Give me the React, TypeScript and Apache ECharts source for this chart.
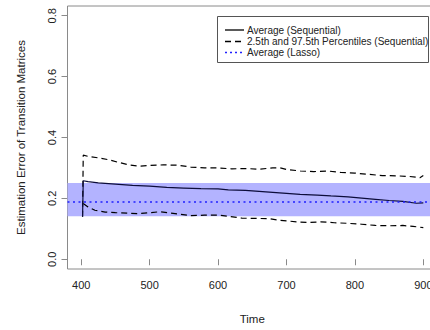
import React, { useEffect, useRef } from "react";
import * as echarts from "echarts";

const xTicks = [400, 500, 600, 700, 800, 900];
const yTicks = [0, 0.2, 0.4, 0.6, 0.8];

const avgTime = [402, 403, 410, 425, 450, 475, 500, 525, 550, 575, 600, 615, 640, 665, 690, 720, 745, 765, 790, 810, 830, 850, 870, 890, 900];
const avgValue = [0.14, 0.258, 0.255, 0.251, 0.247, 0.243, 0.24, 0.236, 0.234, 0.232, 0.231, 0.228, 0.226, 0.222, 0.218, 0.213, 0.211, 0.208, 0.205, 0.201, 0.197, 0.193, 0.19, 0.184, 0.185];

const upperTime = [402, 403, 410, 425, 440, 455, 470, 485, 500, 520, 540, 560, 580, 600, 620, 640, 660, 680, 690, 700, 720, 740, 760, 780, 800, 820, 840, 860, 880, 895, 900];
const upperValue = [0.14, 0.342, 0.338, 0.333, 0.327, 0.318, 0.31, 0.306, 0.308, 0.31, 0.309, 0.303, 0.3, 0.3, 0.297, 0.298, 0.296, 0.3, 0.301, 0.295, 0.29, 0.288, 0.29, 0.285, 0.283, 0.279, 0.275, 0.274, 0.272, 0.268, 0.275];

const lowerTime = [403, 410, 420, 435, 450, 470, 485, 500, 515, 530, 545, 560, 580, 600, 615, 635, 660, 675, 690, 705, 720, 735, 750, 770, 790, 810, 830, 850, 870, 885, 900];
const lowerValue = [0.183, 0.172, 0.161, 0.155, 0.153, 0.151, 0.15, 0.153, 0.156, 0.152, 0.148, 0.143, 0.145, 0.145, 0.141, 0.135, 0.134, 0.133, 0.128, 0.125, 0.122, 0.121, 0.123, 0.12, 0.118, 0.115, 0.111, 0.11, 0.111, 0.108, 0.104];

const lassoAverage = 0.187;
const lassoBand = [0.141, 0.2505];

const legendLabels = [
  "Average (Sequential)",
  "2.5th and 97.5th Percentiles (Sequential)",
  "Average (Lasso)",
];

const FONT = "'Liberation Sans', Arial, sans-serif";

function zip(xs: number[], ys: number[]) {
  return xs.map((x, i) => [x, ys[i]]);
}

export default function App() {
  const ref = useRef<HTMLDivElement>(null);
  useEffect(() => {
    if (!ref.current) return;
    const chart = echarts.init(ref.current, undefined, { renderer: "svg" });
    const dashed = [6, 4];
    chart.setOption({
      animation: false,
      backgroundColor: "#fff",
      grid: {
        left: 67.5,
        top: 6,
        right: 8,
        bottom: 60,
        show: true,
        borderColor: "#8a8a8a",
        borderWidth: 1,
        backgroundColor: "transparent",
      },
      xAxis: {
        type: "value",
        min: 380,
        max: 920,
        name: "Time",
        nameLocation: "middle",
        nameGap: 44,
        nameTextStyle: { fontFamily: FONT, fontSize: 11.5, color: "#222" },
        axisLine: { show: false },
        axisTick: { show: true, length: 6, customValues: xTicks, lineStyle: { color: "#8a8a8a" } },
        axisLabel: { customValues: xTicks, margin: 10, fontFamily: FONT, fontSize: 11, color: "#222" },
        splitLine: { show: false },
      },
      yAxis: {
        type: "value",
        min: -0.032,
        max: 0.832,
        name: "Estimation Error of Transition Matrices",
        nameLocation: "middle",
        nameGap: 41,
        nameTextStyle: { fontFamily: FONT, fontSize: 11.5, color: "#222" },
        axisLine: { show: false },
        axisTick: { show: true, length: 6, customValues: yTicks, lineStyle: { color: "#8a8a8a" } },
        axisLabel: {
          customValues: yTicks,
          rotate: 90,
          margin: 10,
          fontFamily: FONT,
          fontSize: 11,
          color: "#222",
          formatter: (v: number) => v.toFixed(1),
        },
        splitLine: { show: false },
      },
      series: [
        {
          type: "line",
          data: [],
          z: 1,
          silent: true,
          markArea: {
            silent: true,
            itemStyle: { color: "#b3b3ff", opacity: 1 },
            data: [[{ yAxis: lassoBand[0] }, { yAxis: lassoBand[1] }]],
          },
          markLine: {
            silent: true,
            symbol: "none",
            label: { show: false },
            lineStyle: { color: "#2020ff", width: 1.5, type: [2, 3.5] },
            data: [{ yAxis: lassoAverage }],
          },
        },
        {
          type: "line",
          data: zip(upperTime, upperValue),
          showSymbol: false,
          z: 3,
          lineStyle: { color: "#000", width: 1.2, type: dashed },
        },
        {
          type: "line",
          data: zip(lowerTime, lowerValue),
          showSymbol: false,
          z: 3,
          lineStyle: { color: "#000", width: 1.2, type: dashed },
        },
        {
          type: "line",
          data: zip(avgTime, avgValue),
          showSymbol: false,
          z: 4,
          lineStyle: { color: "#0c0c3a", width: 1.2 },
        },
      ],
      graphic: [
        {
          type: "rect",
          shape: { x: 217.5, y: 16.5, width: 211, height: 46 },
          style: { fill: "#fff", stroke: "#555", lineWidth: 1 },
          z: 10,
        },
        {
          type: "line",
          shape: { x1: 225, y1: 30, x2: 244, y2: 30 },
          style: { stroke: "#000", lineWidth: 1.3 },
          z: 11,
        },
        {
          type: "line",
          shape: { x1: 225, y1: 41.5, x2: 244, y2: 41.5 },
          style: { stroke: "#000", lineWidth: 1.3, lineDash: [6, 4] },
          z: 11,
        },
        {
          type: "line",
          shape: { x1: 225, y1: 52.5, x2: 244, y2: 52.5 },
          style: { stroke: "#2020ff", lineWidth: 1.5, lineDash: [2, 3] },
          z: 11,
        },
        ...legendLabels.map((t, i) => ({
          type: "text",
          x: 247,
          y: [30, 41.5, 52.5][i],
          z: 11,
          style: {
            text: t,
            fontFamily: FONT,
            fontSize: 10,
            fill: "#222",
            verticalAlign: "middle",
            align: "left",
          },
        })),
      ],
    });
    return () => chart.dispose();
  }, []);
  return (
    <div
      style={{ position: "absolute", left: 0, top: 0, width: 430, height: 330, overflow: "hidden" }}
    >
      <div ref={ref} style={{ width: 445, height: 330 }} />
    </div>
  );
}
